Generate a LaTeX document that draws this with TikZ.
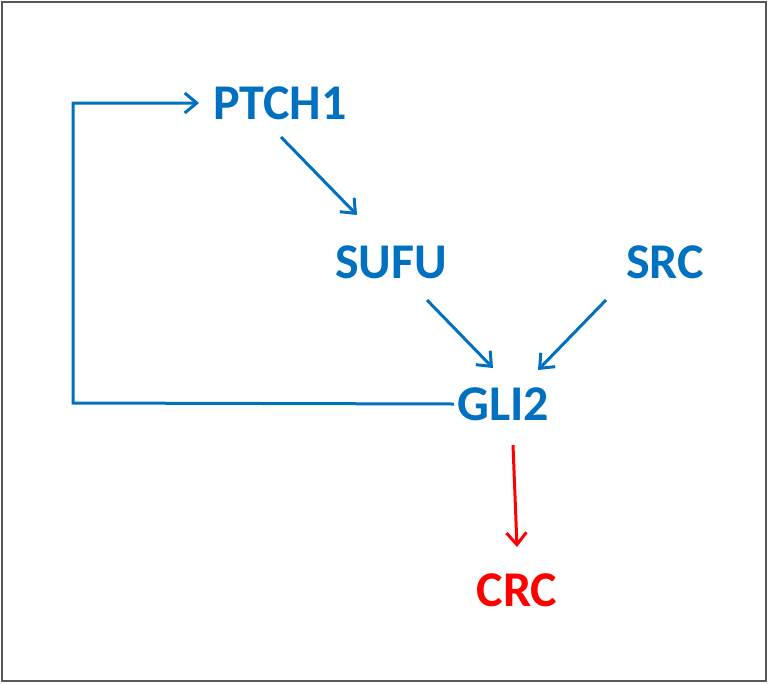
\documentclass[tikz,border=0pt]{standalone}
\usepackage{fontspec}
\setmainfont{Carlito}
\usetikzlibrary{arrows.meta}
\definecolor{genblue}{RGB}{0,112,192}
\definecolor{genred}{RGB}{255,0,0}
\begin{document}
\begin{tikzpicture}[x=1pt,y=-1pt,
    gene/.style={text=genblue,font=\fontsize{50}{60}\selectfont\bfseries,inner sep=0pt},
    arr/.style={->,>={Straight Barb[length=12pt,width=20pt]},line width=3pt,genblue}]
    % frame
    \draw[line width=2pt,gray!70!black] (2,2) rectangle (766,681);
    \useasboundingbox (0,0) rectangle (768,683);

    % genes
    \node[gene] (ptch) at (280,103) {PTCH1};
    \node[gene] (sufu) at (391,262) {SUFU};
    \node[gene] (src)  at (665,262) {SRC};
    \node[gene] (gli)  at (503,404) {GLI2};
    \node[gene,text=genred] (crc) at (517,590) {CRC};

    % end points
    \coordinate (p1) at (281,137);
    \coordinate (s1) at (357,215);
    \coordinate (s2) at (427,300);
    \coordinate (g1) at (493,368);
    \coordinate (r2) at (606,300);
    \coordinate (g2) at (538,370);
    \coordinate (g3) at (513,445);
    \coordinate (c1) at (517,547);
    \coordinate (fb) at (73,403);

    % connectors
    \draw[arr] (p1) -- (s1);
    \draw[arr] (s2) -- (g1);
    \draw[arr] (r2) -- (g2);
    \draw[arr,genred] (g3) -- (c1);
    \draw[arr] (gli.west) ++(-3,0) -- (fb) |- ([xshift=-14pt]ptch.west);
\end{tikzpicture}
\end{document}
